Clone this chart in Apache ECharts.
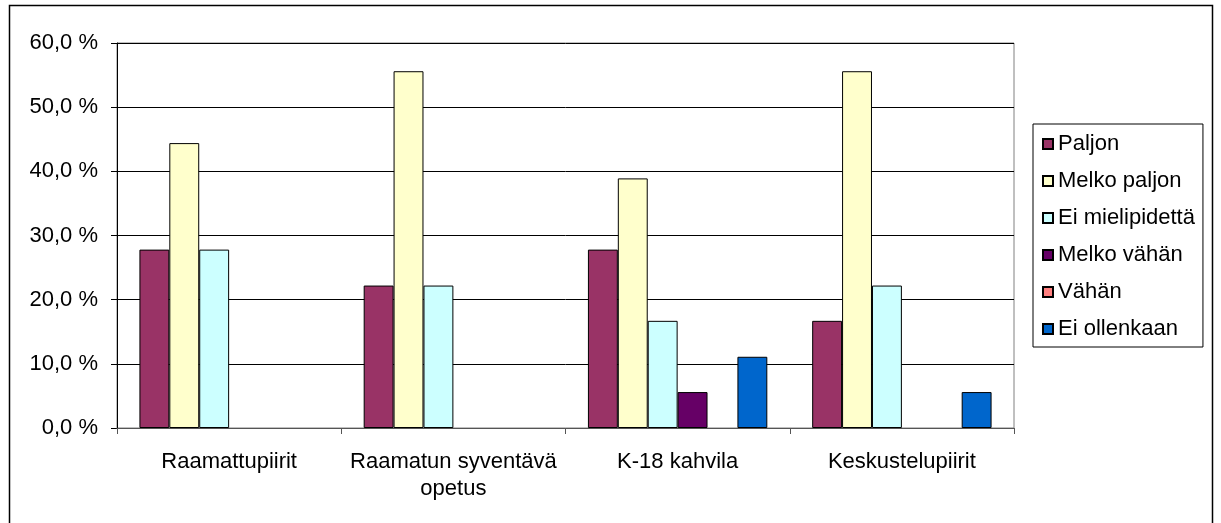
<!DOCTYPE html>
<html>
<head>
<meta charset="utf-8">
<script src="https://cdn.jsdelivr.net/npm/echarts@6/dist/echarts.min.js"></script>
<style>
  html, body { margin: 0; padding: 0; background: #fff; }
  #chart { width: 1221px; height: 523px; }
</style>
</head>
<body>
<div id="chart"></div>
<script>
var categories = ['Raamattupiirit', 'Raamatun syventävä\nopetus', 'K-18 kahvila', 'Keskustelupiirit'];
var seriesNames = ['Paljon', 'Melko paljon', 'Ei mielipidettä', 'Melko vähän', 'Vähän', 'Ei ollenkaan'];
var seriesColors = ['#993366', '#FFFFCC', '#CCFFFF', '#660066', '#FF8080', '#0066CC'];

var paljon      = [27.8, 22.2, 27.8, 16.7];
var melkoPaljon = [44.4, 55.6, 38.9, 55.6];
var eiMielipid  = [27.8, 22.2, 16.7, 22.2];
var melkoVahan  = [0, 0, 5.6, 0];
var vahan       = [0, 0, 0, 0];
var eiOllenkaan = [0, 0, 11.1, 5.6];

var yTicks = [0, 10, 20, 30, 40, 50, 60];

var seriesData = [paljon, melkoPaljon, eiMielipid, melkoVahan, vahan, eiOllenkaan];

var font = 'Liberation Sans, Arial, sans-serif';
var fontSize = 22;

var series = [];
for (var i = 0; i < seriesNames.length; i++) {
  // zero values get no outline, like Excel draws them
  var items = seriesData[i].map(function (v) {
    return v === 0 ? { value: v, itemStyle: { borderWidth: 0 } } : v;
  });
  series.push({
    name: seriesNames[i],
    type: 'bar',
    data: items,
    barGap: '0%',
    barCategoryGap: '20%',
    itemStyle: { color: seriesColors[i], borderColor: '#000', borderWidth: 1 }
  });
}

var chart = echarts.init(document.getElementById('chart'));
chart.setOption({
  animation: false,
  backgroundColor: '#fff',
  textStyle: { fontFamily: font },
  graphic: [{
    type: 'rect',
    shape: { x: 9.5, y: 5.5, width: 1203, height: 540 },
    style: { fill: null, stroke: '#000', lineWidth: 1.5 },
    silent: true
  }],
  grid: {
    left: 117, right: 207, top: 43, bottom: 95,
    show: true, borderColor: '#808080', borderWidth: 1
  },
  legend: {
    orient: 'vertical',
    left: 1033,
    top: 124,
    padding: [8, 8, 6, 9],
    backgroundColor: '#fff',
    borderColor: '#000',
    borderWidth: 1,
    itemWidth: 10,
    itemHeight: 10,
    itemGap: 13,
    icon: 'rect',
    data: seriesNames,
    textStyle: { fontFamily: font, fontSize: fontSize, color: '#000', lineHeight: 24 }
  },
  xAxis: {
    type: 'category',
    data: categories,
    z: 5,
    axisLine: { lineStyle: { color: '#555', width: 1 } },
    axisTick: { show: true, length: 6, lineStyle: { color: '#555' } },
    axisLabel: {
      fontFamily: font, fontSize: fontSize, color: '#000',
      margin: 20, lineHeight: 27, interval: 0, align: 'center'
    },
    splitLine: { show: false }
  },
  yAxis: {
    type: 'value',
    min: yTicks[0],
    max: yTicks[yTicks.length - 1],
    interval: 10,
    axisLine: { show: true, lineStyle: { color: '#000', width: 1 } },
    axisTick: { show: true, length: 6, lineStyle: { color: '#000' } },
    axisLabel: {
      fontFamily: font, fontSize: fontSize, color: '#000', margin: 19,
      formatter: function (v) { return v.toFixed(1).replace('.', ',') + ' %'; }
    },
    splitLine: { show: true, lineStyle: { color: '#000', width: 1 } }
  },
  series: series
});
</script>
</body>
</html>
